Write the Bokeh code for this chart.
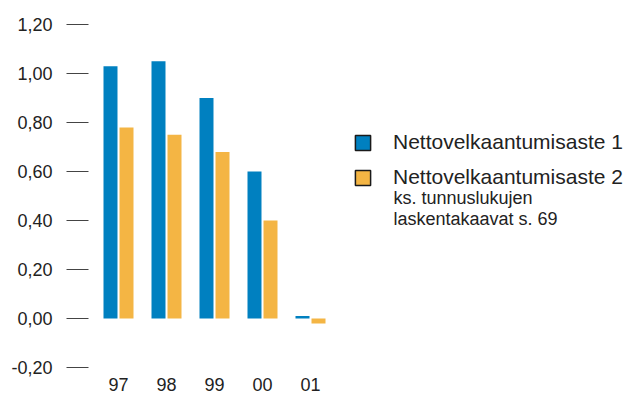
from bokeh.plotting import figure
from bokeh.models import (ColumnDataSource, Range1d, FixedTicker,
                          CustomJSTickFormatter, Legend, LegendItem, Label)
from bokeh.transform import dodge
from bokeh.embed import file_html
from bokeh.resources import INLINE

years = ["97", "98", "99", "00", "01"]
series1 = [1.03, 1.05, 0.90, 0.60, 0.01]
series2 = [0.78, 0.75, 0.68, 0.40, -0.02]
y_ticks = [-0.2, 0.0, 0.2, 0.4, 0.6, 0.8, 1.0, 1.2]
name1 = "Nettovelkaantumisaste 1"
name2 = "Nettovelkaantumisaste 2"
note = "ks. tunnuslukujen\nlaskentakaavat s. 69"

BLUE = "#0080c0"
ORANGE = "#f4b544"
FONT = "Liberation Sans"

pos = list(range(len(years)))
src = ColumnDataSource(dict(pos=pos, year=years, s1=series1, s2=series2))

p = figure(width=624, height=394, output_backend="svg", toolbar_location=None,
           x_range=Range1d(-0.625, 10.5417),
           y_range=Range1d(-0.204, 1.298),
           min_border_left=88, min_border_right=0, min_border_top=0,
           min_border_bottom=26)
p.outline_line_color = None
p.background_fill_color = None
p.border_fill_color = "white"
p.grid.visible = False

p.vbar(x=dodge("pos", -0.1667), top="s1", bottom=0,
       width=0.2917, source=src, fill_color=BLUE, line_color=None)
p.vbar(x=dodge("pos", 0.1667), top="s2", bottom=0,
       width=0.2917, source=src, fill_color=ORANGE, line_color=None)

# legend swatches: renderers with no drawable data, carrying the swatch style
nan = float("nan")
r1 = p.vbar(x=[nan], top=[nan], width=0.3, fill_color=BLUE,
            line_color="#1a1a1a", line_width=1.5)
r2 = p.vbar(x=[nan], top=[nan], width=0.3, fill_color=ORANGE,
            line_color="#1a1a1a", line_width=1.5)

legend = Legend(items=[LegendItem(label=name1, renderers=[r1]),
                       LegendItem(label=name2, renderers=[r2])],
                location=(265, 179), orientation="vertical",
                glyph_width=19, glyph_height=19, label_standoff=21,
                label_height=20, spacing=11, padding=0, margin=0,
                border_line_color=None, background_fill_alpha=0,
                label_text_font=FONT, label_text_font_size="21px",
                label_text_color="#222222")
p.add_layout(legend, "center")

p.add_layout(Label(x=305, y=181, x_units="screen", y_units="screen", text=note,
                   text_font=FONT, text_font_size="18px", text_color="#222222",
                   text_baseline="top", text_line_height=1.06))

ya = p.yaxis[0]
ya.ticker = FixedTicker(ticks=y_ticks)
ya.formatter = CustomJSTickFormatter(code="return tick.toFixed(2).replace('.', ',');")
ya.axis_line_color = None
ya.major_tick_in = 0
ya.major_tick_out = 22
ya.major_tick_line_color = "#444444"
ya.major_tick_line_width = 1
ya.minor_tick_line_color = None
ya.major_label_standoff = 14
ya.major_label_text_font = FONT
ya.major_label_text_font_size = "18px"
ya.major_label_text_color = "#222222"

xa = p.xaxis[0]
xa.ticker = FixedTicker(ticks=pos)
xa.major_label_overrides = {i: y for i, y in zip(pos, years)}
xa.axis_line_color = None
xa.major_tick_line_color = None
xa.major_tick_in = 0
xa.major_tick_out = 0
xa.minor_tick_line_color = None
xa.major_label_standoff = 9
xa.major_label_text_font = FONT
xa.major_label_text_font_size = "18px"
xa.major_label_text_color = "#222222"

open("out.html", "w").write(file_html(p, INLINE))
